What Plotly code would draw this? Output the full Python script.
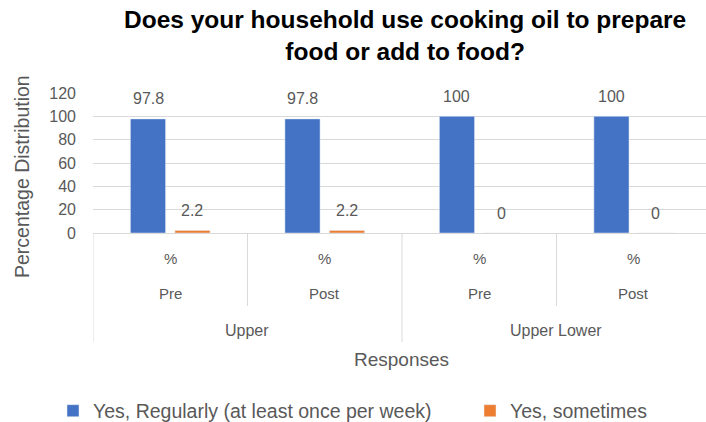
import plotly.graph_objects as go

# ---- data ----
groups = ["Upper", "Upper", "Upper Lower", "Upper Lower"]
periods = ["Pre", "Post", "Pre", "Post"]
units = ["%", "%", "%", "%"]
categories = ["Upper Pre", "Upper Post", "Upper Lower Pre", "Upper Lower Post"]
series_names = ["Yes, Regularly (at least once per week)", "Yes, sometimes"]
regularly = [97.8, 97.8, 100, 100]
sometimes = [2.2, 2.2, 0, 0]
y_ticks = [0, 20, 40, 60, 80, 100, 120]

# ---- layout geometry ----
W, H = 706, 422
ML, MR, MT, MB = 93, 0, 93, 189
PLOT_W = W - ML - MR
PLOT_H = H - MT - MB
BARGAP = 0.424
BARGROUPGAP = 0.21
CAT_SPAN = 3.968  # visible categories across the plot width

GREY = "#595959"
LINE = "#d9d9d9"
FONT = "Arial, Liberation Sans, sans-serif"


def px_x(p):
    return (p - ML) / PLOT_W


def px_y(p):
    return (H - MB - p) / PLOT_H


fig = go.Figure()
fig.add_trace(go.Bar(x=categories, y=regularly, name=series_names[0],
                     marker_color="#4472C4", legend="legend"))
fig.add_trace(go.Bar(x=categories, y=sometimes, name=series_names[1],
                     marker_color="#ED7D31", legend="legend2"))

# value labels above each bar
offset = (1 - BARGAP) / 4
annotations = []
for i in range(len(categories)):
    for vals, sign in ((regularly, -1), (sometimes, 1)):
        annotations.append(dict(
            x=i + sign * offset, y=vals[i], xref="x", yref="y",
            text=f"{vals[i]:g}", showarrow=False, xanchor="center", yanchor="middle",
            yshift=20, font=dict(size=16, color=GREY, family=FONT)))

# three-level category labels under the axis
for i in range(len(categories)):
    annotations.append(dict(x=i, y=px_y(258), xref="x", yref="paper", text=units[i],
                            xanchor="center", yanchor="middle", showarrow=False,
                            font=dict(size=15, color=GREY, family=FONT)))
    annotations.append(dict(x=i, y=px_y(293), xref="x", yref="paper", text=periods[i],
                            xanchor="center", yanchor="middle", showarrow=False,
                            font=dict(size=15, color=GREY, family=FONT)))
group_names = list(dict.fromkeys(groups))
for g in group_names:
    idx = [i for i, v in enumerate(groups) if v == g]
    annotations.append(dict(x=(idx[0] + idx[-1]) / 2, y=px_y(330), xref="x", yref="paper",
                            text=g, xanchor="center", yanchor="middle", showarrow=False,
                            font=dict(size=16, color=GREY, family=FONT)))

# chart title
annotations.append(dict(x=px_x(405), y=px_y(36), xref="paper", yref="paper",
                        xanchor="center", yanchor="middle", showarrow=False,
                        text="<b>Does your household use cooking oil to prepare<br>food or add to food?</b>",
                        font=dict(size=24.5, color="#000000", family=FONT)))

# axis titles
annotations.append(dict(x=px_x(401), y=px_y(359), xref="paper", yref="paper",
                        xanchor="center", yanchor="middle", text="Responses", showarrow=False,
                        font=dict(size=19, color=GREY, family=FONT)))
annotations.append(dict(x=px_x(22), y=px_y(177), xref="paper", yref="paper",
                        xanchor="center", yanchor="middle",
                        text="Percentage Distribution", textangle=-90, showarrow=False,
                        font=dict(size=19.5, color=GREY, family=FONT)))

# separator lines between category groups
shapes = []
for i in range(len(categories)):
    left = i - 0.5
    if i == 0 or groups[i] != groups[i - 1]:
        bottom = 342
    else:
        bottom = 306
    shapes.append(dict(type="line", xref="x", yref="paper", x0=left, x1=left,
                       y0=0, y1=px_y(bottom), line=dict(color=LINE, width=1)))

fig.update_layout(
    width=W, height=H,
    margin=dict(l=ML, r=MR, t=MT, b=MB, autoexpand=False),
    paper_bgcolor="white", plot_bgcolor="white",
    barmode="group", bargap=BARGAP, bargroupgap=BARGROUPGAP,
    xaxis=dict(type="category", categoryorder="array", categoryarray=categories,
               range=[-0.5, -0.5 + CAT_SPAN], showticklabels=False, showgrid=False,
               zeroline=False, showline=False, ticks=""),
    yaxis=dict(range=[0, 120], tickvals=y_ticks, showgrid=True, gridcolor=LINE, gridwidth=1,
               zeroline=True, zerolinecolor=LINE, zerolinewidth=1, showline=False,
               ticks="", ticklabelstandoff=16,
               tickfont=dict(size=16, color=GREY, family=FONT)),
    legend=dict(orientation="h", x=px_x(53), xanchor="left", y=px_y(411), yanchor="middle",
                font=dict(size=19.5, color=GREY, family=FONT), bgcolor="rgba(0,0,0,0)"),
    legend2=dict(orientation="h", x=px_x(470), xanchor="left", y=px_y(411), yanchor="middle",
                 font=dict(size=19.5, color=GREY, family=FONT), bgcolor="rgba(0,0,0,0)"),
    annotations=annotations,
    shapes=shapes,
    showlegend=True,
)

fig.write_html("out.html")
